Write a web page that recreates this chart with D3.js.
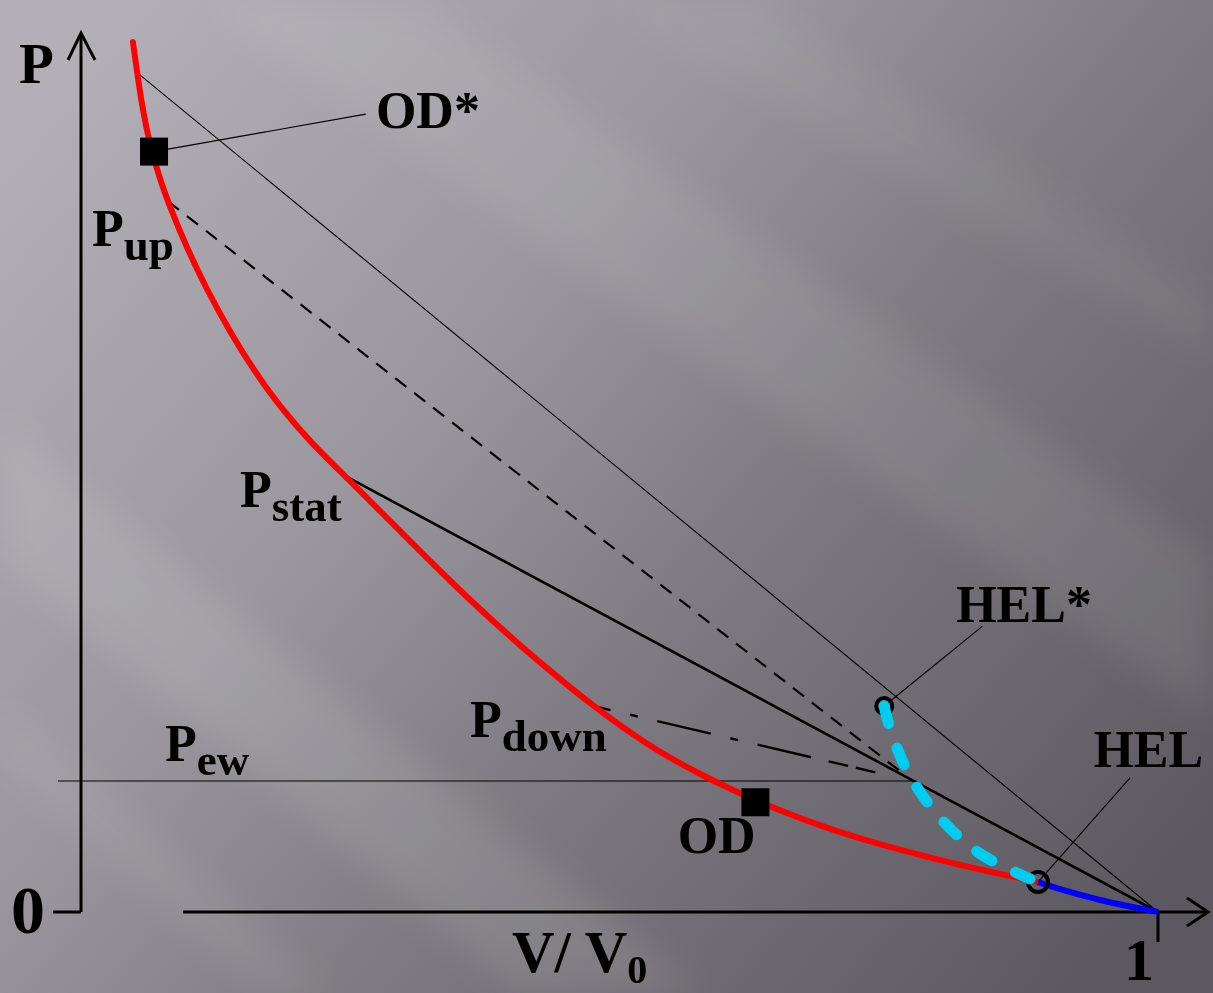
<!DOCTYPE html>
<html>
<head>
<meta charset="utf-8">
<script src="https://cdn.jsdelivr.net/npm/d3@7"></script>
<style>
  html, body { margin: 0; padding: 0; background: #8a888e; }
  svg { display: block; }
  text { font-family: "Liberation Serif", "Times New Roman", serif; font-weight: bold; fill: #000; }
</style>
</head>
<body>
<div id="chart"></div>
<script>
// Hugoniot (red: plastic branch, blue: elastic branch), V/V0 vs P
const redV = [0.5241, 0.5260, 0.5288, 0.5320, 0.5367, 0.5422, 0.5492, 0.5585, 0.5692, 0.5799, 0.5924, 0.6063, 0.6226,
              0.6481, 0.6713, 0.6945, 0.7177, 0.7377, 0.7628, 0.7860, 0.8129, 0.8491, 0.8802, 0.9113, 0.9443];
const redP = [99.89, 96.44, 91.85, 88.06, 84.04, 80.37, 76.23, 71.41, 66.6, 62.3, 58.0, 54.0, 50.06,
              43.74, 38.00, 32.61, 27.67, 23.65, 19.17, 15.96, 12.74, 9.30, 7.12, 5.17, 3.44];
const blueV = [0.9443, 0.9591, 0.9731, 1.0];
const blueP = [3.44, 2.3, 1.38, 0];
// release path from HEL* down to HEL
const cyanV = [0.8729, 0.8748, 0.8836, 0.8989, 0.9174, 0.9406];
const cyanP = [23.65, 21.7, 16.2, 10.8, 6.7, 3.8];

// special states
const pUp = [0.5404, 81.6];
const pStat = [0.6226, 50.06];
const pDown = [0.7377, 23.65];
const pEw = 15.04;
const meet = [0.8859, 15.04];      // where the Rayleigh lines meet the Pew level
const rayleighTop = [0.5269, 96.2];
const squares = [[0.5339, 87.3], [0.8131, 12.6]];     // OD*, OD
const circles = [[0.8729, 23.65, 8], [0.9443, 3.44, 10]]; // HEL*, HEL

const W = 1213, H = 993;
const x = d3.scaleLinear().domain([0.5, 1]).range([81, 1158]);
const y = d3.scaleLinear().domain([0, 100]).range([912, 41]);

const svg = d3.select("#chart").append("svg").attr("width", W).attr("height", H);

// ---- background
const defs = svg.append("defs");
const g0 = defs.append("linearGradient").attr("id", "bg")
  .attr("x1", 0).attr("y1", 0.15).attr("x2", 1).attr("y2", 0.85);
[[0, "#b2b0b6"], [0.35, "#9a989e"], [0.6, "#7d7b81"], [1, "#5b595f"]]
  .forEach(s => g0.append("stop").attr("offset", s[0]).attr("stop-color", s[1]));
defs.append("filter").attr("id", "blur").append("feGaussianBlur").attr("stdDeviation", 18);

svg.append("rect").attr("width", W).attr("height", H).attr("fill", "url(#bg)");
const streaks = [
  [[0, 420], [0, 560], [520, 993], [700, 993]],
  [[0, 700], [0, 760], [260, 993], [330, 993]],
  [[200, 0], [420, 0], [1213, 560], [1213, 720]],
  [[600, 0], [760, 0], [1213, 300], [1213, 360]]
];
svg.append("g").attr("filter", "url(#blur)")
  .selectAll("path").data(streaks).join("path")
  .attr("d", d => "M" + d.join("L") + "Z")
  .attr("fill", "#ffffff").attr("opacity", (d, i) => [0.1, 0.07, 0.08, 0.05][i]);

// ---- axes
const ax = svg.append("g").attr("stroke", "#000").attr("stroke-width", 3).attr("fill", "none");
ax.append("line").attr("x1", x(0.5)).attr("y1", y(0)).attr("x2", x(0.5)).attr("y2", 34);
ax.append("polyline").attr("points", `${x(0.5) - 13},60 ${x(0.5)},33 ${x(0.5) + 14},60`);
ax.append("line").attr("x1", 53).attr("y1", y(0)).attr("x2", x(0.5)).attr("y2", y(0));
ax.append("line").attr("x1", 183).attr("y1", y(0)).attr("x2", 1206).attr("y2", y(0));
ax.append("polyline").attr("points", `1187,898 1208,${y(0)} 1187,926`);
ax.append("line").attr("x1", x(1)).attr("y1", y(0)).attr("x2", x(1)).attr("y2", 942);

// ---- thin lines: Pew level and outer Rayleigh line
const thin = svg.append("g").attr("stroke", "#000").attr("stroke-width", 1.1);
thin.append("line").attr("x1", 58).attr("y1", y(pEw)).attr("x2", x(meet[0]) + 4).attr("y2", y(pEw));
thin.append("line").attr("x1", x(rayleighTop[0])).attr("y1", y(rayleighTop[1]))
  .attr("x2", x(1)).attr("y2", y(0));

// ---- Rayleigh lines from Pup, Pstat, Pdown
svg.append("line").attr("x1", x(pUp[0])).attr("y1", y(pUp[1])).attr("x2", x(meet[0]) - 6).attr("y2", y(meet[1]) - 5)
  .attr("stroke", "#000").attr("stroke-width", 2.2).attr("stroke-dasharray", "14,10");
svg.append("line").attr("x1", x(pStat[0])).attr("y1", y(pStat[1])).attr("x2", x(1)).attr("y2", y(0))
  .attr("stroke", "#000").attr("stroke-width", 2.6);
svg.append("line").attr("x1", x(pDown[0])).attr("y1", y(pDown[1])).attr("x2", x(meet[0])).attr("y2", y(meet[1]))
  .attr("stroke", "#000").attr("stroke-width", 2.4).attr("stroke-dasharray", "18,20,8,20,55,20,8,20,55");

// ---- Hugoniot curves
const redLine = d3.line().x(d => x(d[0])).y(d => y(d[1])).curve(d3.curveBasis);
const line = d3.line().x(d => x(d[0])).y(d => y(d[1])).curve(d3.curveCatmullRom);
svg.append("path").datum(redV.map((v, i) => [v, redP[i]])).attr("d", redLine)
  .attr("fill", "none").attr("stroke", "#ff0000").attr("stroke-width", 6).attr("stroke-linecap", "round");
svg.append("path").datum(blueV.map((v, i) => [v, blueP[i]])).attr("d", line)
  .attr("fill", "none").attr("stroke", "#0000ff").attr("stroke-width", 6);

// ---- leader lines
const leaders = [[[0.5339, 87.3], [0.6322, 91.6]], [[0.8729, 23.65], [0.9184, 32.8]], [[0.9443, 3.44], [0.987, 15.4]]];
svg.append("g").selectAll("line").data(leaders).join("line")
  .attr("x1", d => x(d[0][0])).attr("y1", d => y(d[0][1]))
  .attr("x2", d => x(d[1][0])).attr("y2", d => y(d[1][1]))
  .attr("stroke", "#000").attr("stroke-width", 1.1);

// ---- HEL circles
svg.append("g").selectAll("circle").data(circles).join("circle")
  .attr("cx", d => x(d[0])).attr("cy", d => y(d[1])).attr("r", d => d[2])
  .attr("fill", "none").attr("stroke", "#000").attr("stroke-width", 4);

// cyan release path
svg.append("path").datum(cyanV.map((v, i) => [v, cyanP[i]]))
  .attr("d", d3.line().x(d => x(d[0])).y(d => y(d[1])).curve(d3.curveCatmullRom))
  .attr("fill", "none").attr("stroke", "#00ccf2").attr("stroke-width", 11)
  .attr("stroke-linecap", "round").attr("stroke-dasharray", "18,26");

// ---- OD squares
svg.append("g").selectAll("rect").data(squares).join("rect")
  .attr("x", d => x(d[0]) - 14).attr("y", d => y(d[1]) - 14)
  .attr("width", 28).attr("height", 28).attr("fill", "#000");

// ---- labels
const labels = [
  { t: "P", s: "up", v: 0.5051, p: 76.5 },
  { t: "P", s: "stat", v: 0.5738, p: 46.5 },
  { t: "P", s: "down", v: 0.6806, p: 20.1 },
  { t: "P", s: "ew", v: 0.5390, p: 17.3 },
  { t: "OD", v: 0.7770, p: 6.8 },
  { t: "OD*", v: 0.6369, p: 90.0 },
  { t: "HEL*", v: 0.9063, p: 33.3 },
  { t: "HEL", v: 0.9700, p: 16.7 }
];
const lab = svg.append("g").selectAll("text").data(labels).join("text")
  .attr("x", d => x(d.v)).attr("y", d => y(d.p)).attr("font-size", 52);
lab.append("tspan").text(d => d.t);
lab.filter(d => d.s).append("tspan").attr("font-size", 45).attr("dy", 14).text(d => d.s);

svg.append("text").attr("x", 19).attr("y", 83).attr("font-size", 57).text("P");
svg.append("text").attr("x", 11).attr("y", 933).attr("font-size", 68).text("0");
svg.append("text").attr("x", 1124).attr("y", 980).attr("font-size", 60).text("1");
const vt = svg.append("text").attr("x", 512).attr("y", 972).attr("font-size", 59);
vt.append("tspan").text("V/ V");
vt.append("tspan").attr("font-size", 40).attr("dy", 11).text("0");
</script>
</body>
</html>
